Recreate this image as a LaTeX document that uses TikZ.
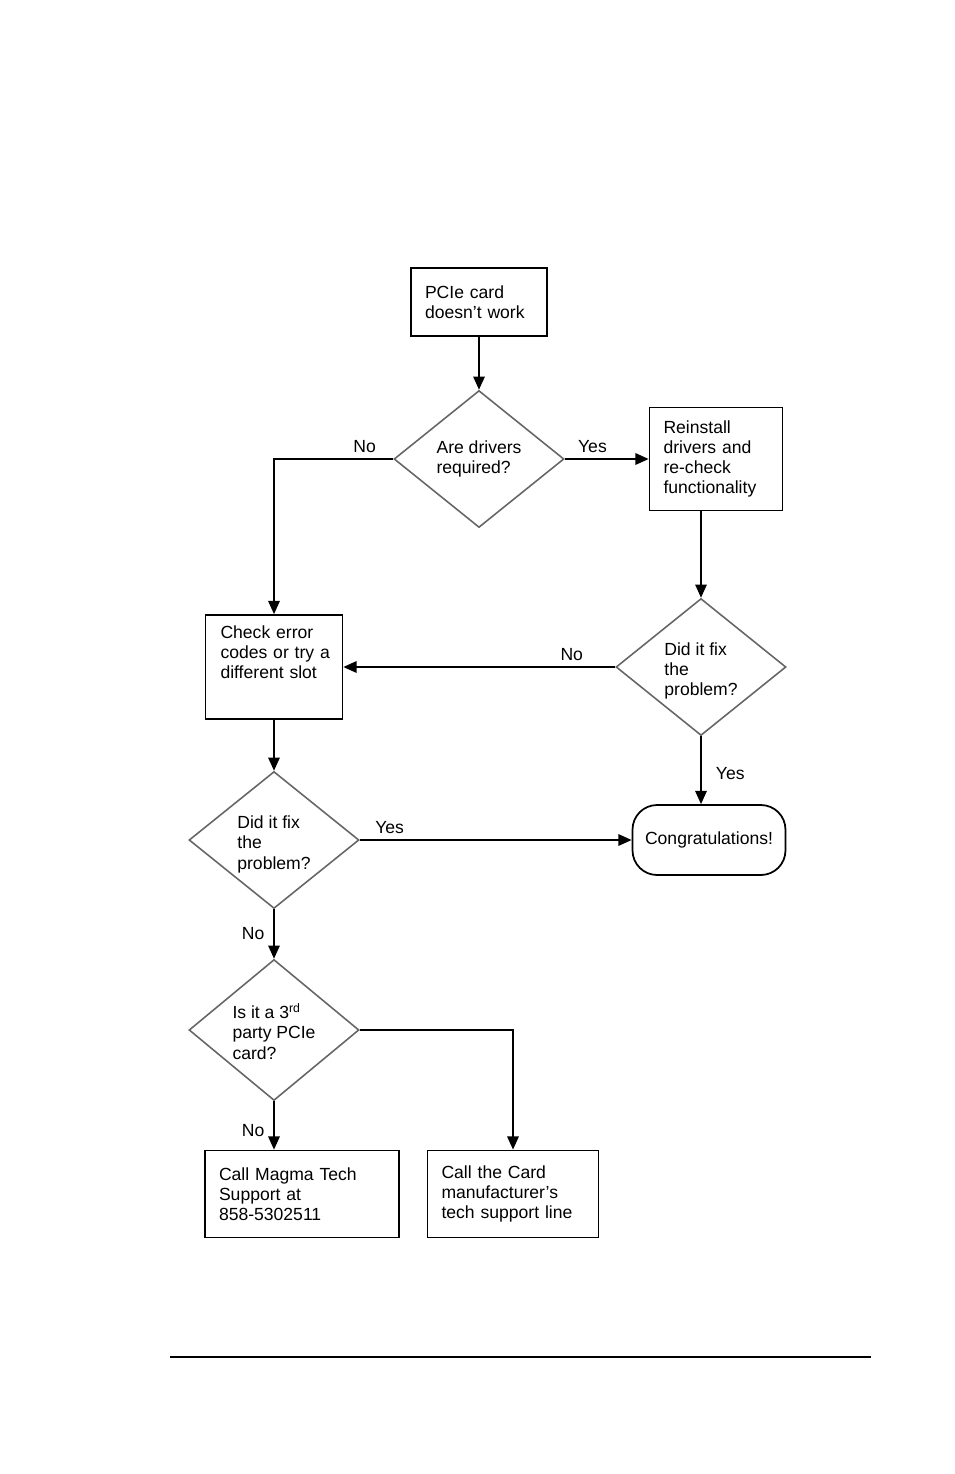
\documentclass[tikz,border=0pt]{standalone}
\usepackage{fontspec}
\setmainfont{Liberation Sans}
\usetikzlibrary{shapes.geometric,arrows.meta}

\begin{document}
\begin{tikzpicture}[x=0.02cm,y=-0.02cm,
  font=\fontsize{10}{11.4}\selectfont,
  box/.style={draw,line width=1pt,align=left,inner xsep=0.28cm,inner ysep=0pt},
  decide/.style={diamond,draw=black!60,line width=0.9pt,align=left,inner sep=0pt,minimum width=3.4cm,minimum height=2.74cm},
  lowtext/.style={text height=33pt,text depth=-5pt},
  arr/.style={line width=1pt,-{Triangle[length=7.5pt,width=6.5pt]}},
  lbl/.style={inner sep=3pt}]
\useasboundingbox (0,0) rectangle (954,1474);
\node[box,text width=2.16cm,minimum height=1.36cm] (start) at (479,302) {PCIe card\\doesn't work};
\node[decide] (d1) at (479,459) {Are drivers\\required?};
\node[box,text width=2.1cm,minimum height=2.06cm] (rein) at (716,459) {Reinstall\\drivers and\\re-check\\functionality};
\node[decide,lowtext] (d2) at (701,667) {Did it fix\\the\\problem?};
\node[box,text width=2.14cm,inner xsep=0.3cm,minimum height=2.08cm,text depth=39.4pt] (check) at (274,667) {Check error\\codes~or~try~a\\different slot};
\node[decide,lowtext] (d3) at (274,840) {Did it fix\\the\\problem?};
\node[draw,line width=1pt,rounded corners=14pt,minimum width=3.06cm,minimum height=1.4cm] (congr) at (709,840) {Congratulations!};
\node[decide,lowtext] (d4) at (274,1030) {Is it a 3\textsuperscript{rd}\\party PCIe\\card?};
\node[box,text width=3.32cm,minimum height=1.74cm] (magma) at (302,1194) {Call Magma Tech\\Support at\\858-5302511};
\node[box,text width=2.86cm,minimum height=1.74cm] (card) at (513,1194) {Call the Card\\manufacturer's\\tech support line};
\draw[arr] (start.south) -- (d1.north);
\draw[arr] (d1.east) -- node[lbl,above,pos=0.33] (yes1) {Yes} (rein.west);
\draw[arr] (d1.west) -| node[lbl,above,pos=0.12] (no1) {No} (check.north);
\draw[arr] (d2.north |- rein.south) -- (d2.north);
\draw[arr] (d2.west) -- node[lbl,above,pos=0.16] (no2) {No} (check.east);
\draw[arr] (d2.south) -- node[lbl,right,pos=0.55,xshift=5pt] (yes2) {Yes} (d2.south |- congr.north);
\draw[arr] (check.south) -- (d3.north);
\draw[arr] (d3.east) -- node[lbl,above,pos=0.11] (yes3) {Yes} (congr.west);
\draw[arr] (d3.south) -- node[lbl,left,pos=0.5,xshift=-2pt] (no3) {No} (d4.north);
\draw[arr] (d4.south) -- node[lbl,left,pos=0.6,xshift=-2pt] (no4) {No} (d4.south |- magma.north);
\draw[arr] (d4.east) -| (card.north);
\draw[line width=1pt] (170,1357) -- (871,1357);
\end{tikzpicture}
\end{document}
